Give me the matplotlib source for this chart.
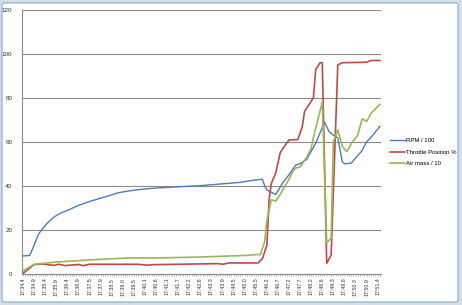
import matplotlib
matplotlib.use("Agg")
import matplotlib.pyplot as plt
from matplotlib.patches import FancyBboxPatch
from matplotlib.ticker import MultipleLocator, FixedLocator

# ─── data (sample index -> value) ─────────────────────────────────────────────
tick_labels = [
    "17:34.4", "17:34.9", "17:35.4", "17:35.9", "17:36.4", "17:36.9", "17:37.5",
    "17:37.9", "17:38.5", "17:39.0", "17:39.5", "17:40.1", "17:40.6", "17:41.1",
    "17:41.7", "17:42.2", "17:42.8", "17:43.3", "17:43.9", "17:44.5", "17:45.0",
    "17:45.5", "17:46.2", "17:46.7", "17:47.2", "17:47.7", "17:48.2", "17:48.6",
    "17:49.3", "17:49.8", "17:50.3", "17:50.9", "17:51.4",
]
n_samples = 162

rpm_idx = [0, 3, 5, 7, 9, 11, 14, 17, 21, 25, 30, 34, 39, 43, 49, 55, 61, 80,
           98, 104, 108, 109, 110, 112, 114, 117, 120, 123, 125, 128, 132, 134,
           136, 138, 140, 142, 144, 145, 148, 153, 155, 157, 161]
rpm_val = [8.0, 8.2, 13, 18, 20.7, 23, 25.8, 27.5, 29.2, 31, 32.8, 34, 35.5, 36.8,
           37.8, 38.5, 39, 40, 41.5, 42.5, 42.9, 40, 38, 37, 36, 41, 45, 49.4, 50,
           52, 59.3, 64, 69, 64.7, 63, 61.8, 51, 50, 50.2, 56, 60, 62, 67]

thr_idx = [0, 5, 9, 14, 16, 19, 25, 27, 30, 52, 56, 58, 88, 90, 93, 106, 108,
           110, 111, 112, 114, 116, 119, 120, 124, 126, 127, 130, 131, 132, 134,
           135, 137, 139, 142, 144, 155, 157, 161]
thr_val = [0, 4.1, 4.3, 3.7, 4.2, 3.6, 4.1, 3.6, 4.2, 4.2, 3.8, 4.0, 4.5, 4.2,
           4.8, 4.8, 6.8, 12.9, 33.5, 41, 45.8, 55, 59.5, 60.8, 61, 67, 73.8,
           78.4, 80, 92.8, 96, 96, 4.6, 8.4, 95, 96, 96.2, 97, 97]

air_idx = [0, 5, 16, 34, 48, 61, 80, 102, 106, 107, 109, 110, 112, 114, 116, 120,
           122, 123, 125, 128, 130, 131, 133, 135, 137, 139, 140, 142, 144, 146,
           148, 151, 153, 155, 157, 161]
air_val = [1.2, 4.2, 5.3, 6.4, 7.1, 7.1, 7.5, 8.3, 8.7, 8.5, 14.4, 24.3, 33.5, 33,
           36, 43, 47, 48, 48.5, 53, 57, 62, 70, 78, 14, 16, 60, 65.4, 58, 55.5,
           59, 63, 70.5, 69.2, 73, 77]

# ─── figure ───────────────────────────────────────────────────────────────────
W, H = 462, 305
fig = plt.figure(figsize=(W / 100, H / 100), dpi=100)
fig.patch.set_facecolor("#d3deeb")
frame = FancyBboxPatch((2 / W, 3 / H), 456 / W, 299 / H,
                       boxstyle="round,pad=0,rounding_size=0.006",
                       transform=fig.transFigure, facecolor="white",
                       edgecolor="#8fa9c8", linewidth=0.8, zorder=-10)
fig.patches.append(frame)

ax = fig.add_axes([22 / W, 1 - 273.5 / H, 359 / W, 263.5 / H])
ax.set_facecolor("none")

ax.plot(rpm_idx, rpm_val, color="#4a7ebb", lw=1.0, label="RPM / 100")
ax.plot(thr_idx, thr_val, color="#be4b48", lw=1.2, label="Throttle Position %")
ax.plot(air_idx, air_val, color="#98b954", lw=1.2, label="Air mass / 10")

ax.set_xlim(-0.5, n_samples - 0.5)
ax.set_ylim(0, 120)
ax.yaxis.set_major_locator(MultipleLocator(20))
ax.grid(axis="y", color="#8c8c8c", lw=0.8)
ax.set_axisbelow(True)

ax.xaxis.set_major_locator(FixedLocator(range(0, 5 * len(tick_labels), 5)))
ax.set_xticklabels(tick_labels, rotation=90, fontsize=3.8, color="#333333",
                   family="Liberation Sans")
ax.xaxis.set_minor_locator(MultipleLocator(1))
ax.tick_params(axis="x", which="both", length=1.5, width=0.4, color="#8c8c8c",
               pad=1.5)
ax.tick_params(axis="y", length=0, labelsize=4.5, labelcolor="#333333", pad=7)
for lbl in ax.get_yticklabels():
    lbl.set_family("Liberation Sans")

for side in ("top", "right"):
    ax.spines[side].set_visible(False)
for side in ("left", "bottom"):
    ax.spines[side].set_color("#8c8c8c")
    ax.spines[side].set_linewidth(0.8)

fig.legend(loc="center left", bbox_to_anchor=(385 / W, 1 - 152 / H),
           frameon=False, handlelength=2.4, handletextpad=0.3,
           labelspacing=1.0, prop={"family": "Liberation Sans", "size": 4.3})

fig.savefig("out.png", dpi=100, facecolor=fig.get_facecolor())
